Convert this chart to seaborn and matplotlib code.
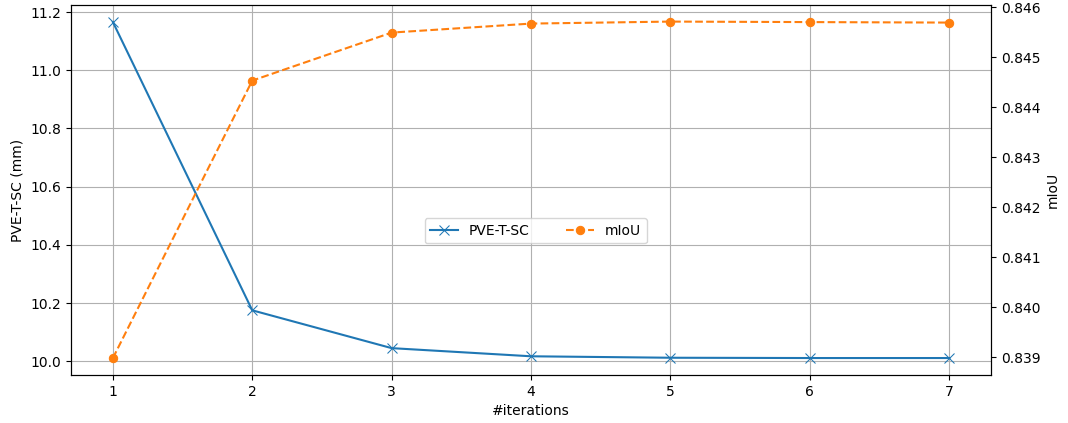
import matplotlib.pyplot as plt
import seaborn as sns
import numpy as np
import pandas as pd

iterations = [1, 2, 3, 4, 5, 6, 7]
pve_t_sc = [11.166, 10.175, 10.045, 10.017, 10.012, 10.011, 10.011]
miou = [0.83898, 0.84453, 0.84549, 0.84567, 0.84571, 0.84570, 0.84569]

df = pd.DataFrame({"iter": iterations, "pve": pve_t_sc, "miou": miou})

fig, ax = plt.subplots(figsize=(10.68, 4.23), dpi=100)
sns.lineplot(data=df, x="iter", y="pve", ax=ax, color="#1f77b4", marker="x",
             markeredgecolor="#1f77b4", markersize=7, label="PVE-T-SC", legend=False)
ax.set_xlabel("#iterations")
ax.set_ylabel("PVE-T-SC (mm)")
ax.grid(True, color="#b0b0b0", linewidth=0.8)
ax.set_axisbelow(True)

ax2 = ax.twinx()
sns.lineplot(data=df, x="iter", y="miou", ax=ax2, color="#ff7f0e", marker="o",
             markeredgecolor="#ff7f0e", markersize=6, linestyle="--", label="mIoU", legend=False)
ax2.set_ylabel("mIoU")

h1, l1 = ax.get_legend_handles_labels()
h2, l2 = ax2.get_legend_handles_labels()
ax.legend(h1 + h2, l1 + l2, loc="center", bbox_to_anchor=(0.505, 0.39), ncol=2,
          columnspacing=2.6)

ax.set_xticks(iterations)
ax.set_xlim(0.7, 7.3)
ax.set_ylim(9.952, 11.224)
ax.set_yticks(np.arange(10.0, 11.21, 0.2))
ax2.set_ylim(0.83864, 0.84604)

fig.subplots_adjust(left=0.0665, right=0.928, top=0.988, bottom=0.113)
fig.savefig("out.png")
